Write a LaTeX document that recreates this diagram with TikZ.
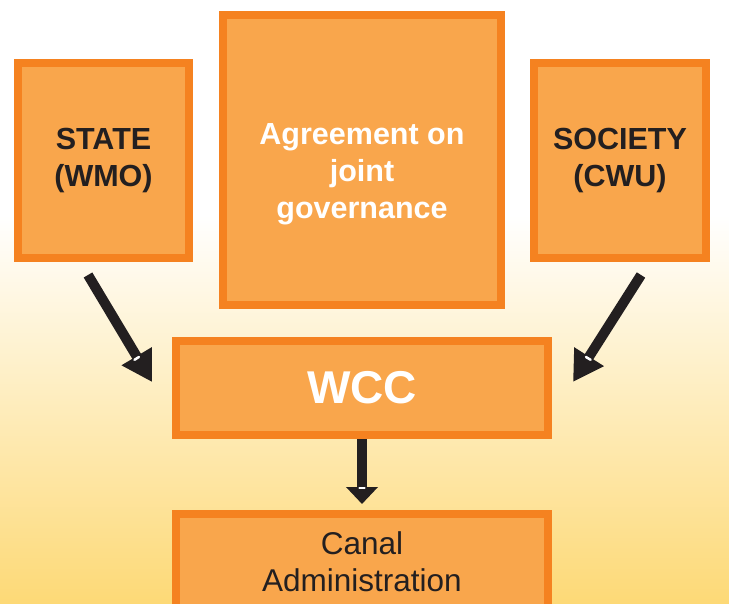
\documentclass[tikz,border=0pt]{standalone}
\usepackage{fontspec}
\setmainfont{Liberation Sans}
\usetikzlibrary{arrows.meta}
\definecolor{boxline}{HTML}{F58220}
\definecolor{boxfill}{HTML}{F9A64C}
\definecolor{darktext}{HTML}{231F20}
\definecolor{bgyellow}{HTML}{FDD976}
\begin{document}
\begin{tikzpicture}[x=1pt,y=-1pt,
  orangebox/.style={draw=boxline, fill=boxfill, line width=8pt, rectangle, align=center, inner sep=0pt},
  boldtext/.style={font=\fontsize{30.5}{37}\selectfont\bfseries},
  arrowline/.style={draw=darktext, line width=10pt},
  bigtip/.style={-{Triangle[length=30pt,width=33pt]}},
  smalltip/.style={-{Triangle[length=17pt,width=31pt]}},
  nick/.style={draw=white, line width=2.5pt, line cap=round}]
\useasboundingbox (0,0) rectangle (729,604);
\clip (0,0) rectangle (729,604);
\fill[white] (0,0) rectangle (729,604);
\shade[top color=white, bottom color=bgyellow] (0,215) rectangle (729,604);

\node[orangebox, boldtext, text=darktext, minimum width=171pt, minimum height=195pt] (state) at (103.5,160.5) {STATE\\(WMO)};
\node[orangebox, boldtext, text=white, minimum width=278pt, minimum height=290pt] (agree) at (362,160) {\rule{0pt}{49pt}Agreement on\\joint\\governance};
\node[orangebox, boldtext, text=darktext, minimum width=172pt, minimum height=195pt] (society) at (620,160.5) {SOCIETY\\(CWU)};
\node[orangebox, text=white, font=\fontsize{46}{50}\selectfont\bfseries, minimum width=372pt, minimum height=94pt] (wcc) at (362,388) {WCC};
\node[orangebox, text=darktext, font=\fontsize{31.5}{37}\selectfont, minimum width=372pt, minimum height=96pt] (canal) at (362,562) {Canal\\Administration};

\coordinate (s1) at (88,275);
\coordinate (t1) at (152,382);
\coordinate (s2) at (641,275);
\coordinate (t2) at (573,382);
\draw[arrowline, bigtip] (s1) -- (t1);
\draw[arrowline, bigtip] (s2) -- (t2);
\draw[arrowline, smalltip, shorten >=6pt] (wcc.south) -- (canal.north);

\draw[nick] (134.5,359.8) -- (138.9,357.0);
\draw[nick] (586.0,357.0) -- (590.6,359.8);
\draw[nick] (359.5,488) -- (364.5,488);
\end{tikzpicture}
\end{document}
